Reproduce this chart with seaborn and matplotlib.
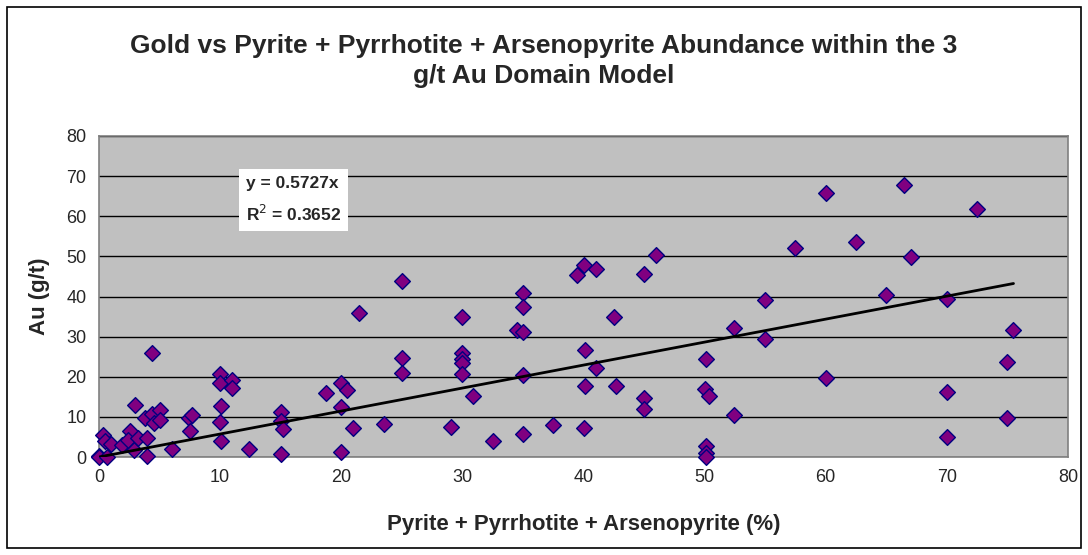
import numpy as np
import pandas as pd
import matplotlib
matplotlib.use("Agg")
import matplotlib.pyplot as plt
import seaborn as sns
from matplotlib.patches import Rectangle

# sulphide abundance (%) and gold grade (g/t)
sulphide = [0, 0, 0.7, 0.3, 0.5, 1.0, 1.9, 2.6, 2.4, 3.0, 2.9, 3.2, 3.8, 4.0, 4.0,
            4.4, 4.35, 4.5, 5.0, 5.0, 6.0, 7.4, 7.7, 7.5,
            10.0, 10.0, 11.0, 11.0, 10.1, 10.0, 10.1, 12.4,
            15.0, 15.0, 15.2, 15.0, 18.7, 20.0, 20.5, 20.0, 20.0, 21.0, 21.5, 23.5,
            25.0, 25.0, 25.0, 29.1, 30.0, 30.0, 30.0, 30.0, 30.0, 30.9, 32.5,
            35.0, 35.0, 34.5, 35.0, 35.0, 35.0, 37.5,
            39.5, 40.0, 41.0, 40.1, 41.0, 40.1, 40.0, 42.5, 42.7,
            45.0, 46.0, 45.0, 45.0, 50.1, 50.0, 50.4, 50.1, 50.1, 50.1,
            52.4, 52.4, 55.0, 55.0, 57.5, 60.0, 60.0, 62.5, 65.0, 66.5, 67.0,
            70.0, 70.0, 70.0, 72.5, 75.5, 75.0, 75.0]
gold = [0.2, 0.0, 0.0, 5.5, 3.9, 3.3, 3.0, 6.6, 4.2, 12.9, 1.7, 4.7, 9.6, 4.8, 0.2,
        26.0, 10.8, 8.4, 11.8, 9.2, 1.9, 9.6, 10.4, 6.5,
        20.7, 18.5, 19.1, 17.2, 12.8, 8.7, 4.1, 2.1,
        11.1, 9.0, 6.9, 0.7, 15.9, 18.5, 16.8, 12.5, 1.3, 7.3, 35.8, 8.2,
        43.8, 24.6, 20.9, 7.6, 35.0, 26.0, 24.5, 23.4, 20.8, 15.3, 4.1,
        40.9, 37.5, 31.7, 31.2, 20.5, 5.8, 7.9,
        45.4, 47.9, 46.9, 26.6, 22.1, 17.7, 7.2, 35.0, 17.7,
        45.5, 50.3, 14.6, 12.0, 24.3, 17.0, 15.2, 2.7, 0.9, 0.1,
        32.1, 10.4, 39.2, 29.5, 52.1, 65.8, 19.8, 53.5, 40.3, 67.8, 49.9,
        39.5, 16.2, 5.1, 61.8, 31.6, 23.6, 9.8]

slope = 0.5727
r_squared = 0.3652

df = pd.DataFrame({"sulphide": sulphide, "gold": gold})

sns.set_style("white", {"axes.facecolor": "#C0C0C0", "axes.edgecolor": "#808080"})
plt.rcParams["font.family"] = ["Liberation Sans", "DejaVu Sans"]

fig = plt.figure(figsize=(10.88, 5.55), dpi=100)
ax = fig.add_axes([99 / 1088, 1 - 457 / 555, 969 / 1088, 321 / 555])

# outer chart border
fig.patches.append(Rectangle((7 / 1088, 7 / 555), 1074 / 1088, 541 / 555,
                             transform=fig.transFigure, fill=False,
                             edgecolor="black", linewidth=1.2))

ax.set_axisbelow(True)
ax.yaxis.grid(True, color="black", linewidth=1)

sns.scatterplot(data=df, x="sulphide", y="gold", ax=ax, marker="D", s=64,
                color="#800080", edgecolor="#000080", linewidth=1, zorder=3,
                clip_on=False)

trend_x = np.array([0, max(sulphide)])
sns.lineplot(x=trend_x, y=slope * trend_x, ax=ax, color="black", linewidth=2,
             zorder=4)

ax.set_xlim(0, 80)
ax.set_ylim(0, 80)
ax.set_xticks(range(0, 81, 10))
ax.set_yticks(range(0, 81, 10))
ax.tick_params(axis="both", direction="out", length=5, width=1, color="#808080",
               labelsize=13, pad=4)
for sp in ax.spines.values():
    sp.set_linewidth(1.2)

ax.set_xlabel("Pyrite + Pyrrhotite + Arsenopyrite (%)", fontsize=16,
              fontweight="bold", labelpad=20)
ax.set_ylabel("Au (g/t)", fontsize=16, fontweight="bold", labelpad=12)

fig.text(0.5, 1 - 61 / 555,
         "Gold vs Pyrite + Pyrrhotite + Arsenopyrite Abundance within the 3\n"
         "g/t Au Domain Model",
         ha="center", va="center", fontsize=19, fontweight="bold",
         linespacing=1.3)

ax.text(0.152, 0.876, f"y = {slope}x\nR$^2$ = {r_squared}",
        transform=ax.transAxes, ha="left", va="top", fontsize=12.5,
        fontweight="bold", linespacing=1.75, zorder=5,
        bbox=dict(facecolor="white", edgecolor="none", pad=5))

fig.savefig("out.png", dpi=100)
